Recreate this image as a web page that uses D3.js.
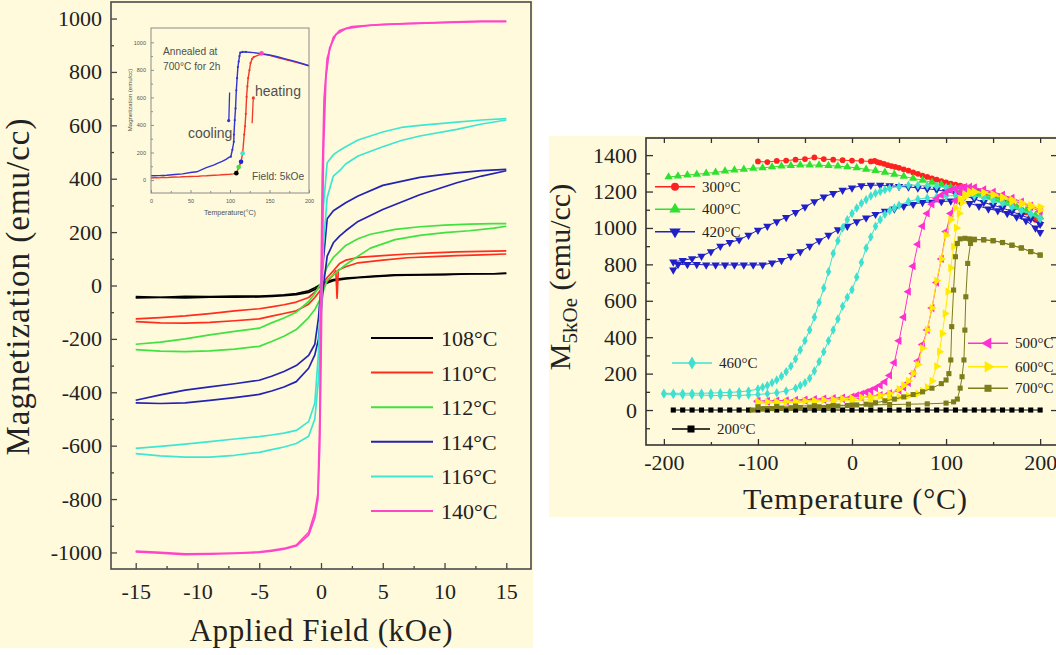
<!DOCTYPE html>
<html><head><meta charset="utf-8">
<script src="https://cdn.jsdelivr.net/npm/d3@7/dist/d3.min.js"></script>
<style>body{margin:0;background:#fff}svg{display:block}</style>
</head><body>
<svg id="c" width="1056" height="655"></svg>
<script>
// ---------------- DATA: left panel (hysteresis loops, field kOe -> emu/cc) ----------------
const hystLabels = ["108°C","110°C","112°C","114°C","116°C","140°C"];
const fieldTicks = [-15,-10,-5,0,5,10,15];
const fieldMinor = [-12.5,-7.5,-2.5,2.5,7.5,12.5];
const magTicks = [-1000,-800,-600,-400,-200,0,200,400,600,800,1000];
const magMinor = [-900,-700,-500,-300,-100,100,300,500,700,900];

const h108a = [[-15,-42],[-13,-44],[-11,-41],[-9,-42],[-7,-40],[-5,-40],[-4,-38],[-3,-35],[-2,-30],[-1,-20],[-0.5,-8],[0,5],[0.5,15],[1,22],[2,28],[3,31],[4,34],[6,40],[8,41],[10,42],[12,44],[14,44],[15,46]];
const h108b = [[-15,-46],[-13,-45],[-11,-46],[-9,-44],[-7,-44],[-5,-43],[-4,-41],[-3,-38],[-2,-34],[-1,-26],[-0.5,-15],[0,-3],[0.5,10],[1,18],[2,25],[3,29],[4,32],[6,38],[8,40],[10,41],[12,43],[14,44],[15,45]];
const h110a = [[-15,-125],[-13,-120],[-11,-114],[-9,-105],[-7,-95],[-5,-87],[-4,-80],[-3,-72],[-2,-62],[-1,-45],[-0.5,-25],[0,0],[0.5,30],[1,55],[1.5,82],[2,95],[3,105],[5,112],[7,118],[9,122],[11,126],[13,128],[15,130]];
const h110b = [[-15,-135],[-13,-140],[-11,-141],[-9,-138],[-7,-132],[-5,-125],[-4,-115],[-3,-105],[-2,-95],[-1,-70],[-0.5,-45],[0,-15],[0.5,15],[1,40],[1.2,55],[1.3,-48],[1.4,58],[2,70],[3,85],[5,95],[7,104],[9,108],[11,112],[13,115],[15,118]];
const h112a = [[-15,-220],[-13,-212],[-11,-200],[-9,-185],[-7,-172],[-5,-160],[-4,-140],[-3,-122],[-2,-100],[-1,-60],[-0.5,-30],[0,10],[0.5,70],[1,105],[2,150],[3,175],[4,192],[6,210],[8,220],[10,226],[12,230],[14,232],[15,232]];
const h112b = [[-15,-240],[-13,-246],[-11,-248],[-9,-245],[-7,-238],[-5,-228],[-4,-210],[-3,-190],[-2,-165],[-1,-120],[-0.5,-90],[0,-45],[0.5,20],[1,40],[2,78],[3,110],[4,140],[6,172],[8,188],[10,198],[12,205],[14,215],[15,222]];
const h114a = [[-15,-430],[-13,-410],[-11,-392],[-9,-380],[-7,-368],[-5,-355],[-4,-340],[-3,-322],[-2,-300],[-1,-262],[-0.5,-220],[-0.2,-120],[0,0],[0.3,150],[0.5,250],[1,280],[1.5,295],[2,310],[3,335],[5,375],[8,405],[11,422],[13,430],[15,435]];
const h114b = [[-15,-440],[-13,-442],[-11,-440],[-9,-430],[-7,-420],[-5,-408],[-4,-395],[-3,-380],[-2,-360],[-1,-310],[-0.5,-260],[-0.2,-200],[0,-100],[0.2,0],[0.5,110],[1,160],[1.5,185],[2,205],[3,240],[5,285],[8,340],[11,385],[13,410],[15,430]];
const h116a = [[-15,-610],[-13,-603],[-11,-594],[-9,-585],[-7,-575],[-5,-566],[-4,-560],[-3,-553],[-2,-543],[-1,-510],[-0.5,-440],[-0.2,-250],[0,0],[0.2,300],[0.5,460],[1,490],[1.5,506],[2,520],[3,545],[5,575],[6.5,592],[8,600],[11,612],[13,620],[15,625]];
const h116b = [[-15,-630],[-13,-638],[-11,-643],[-9,-643],[-7,-636],[-5,-625],[-4,-615],[-3,-605],[-2,-592],[-1,-565],[-0.5,-500],[-0.2,-350],[0,-150],[0.2,150],[0.5,330],[1,410],[1.5,430],[2,455],[3,485],[5,520],[6.5,543],[8,560],[11,585],[13,605],[15,620]];
const h140a = [[-15,-995],[-13,-1000],[-11,-1005],[-9,-1004],[-7,-1002],[-5,-998],[-4,-992],[-3,-985],[-2,-972],[-1,-925],[-0.5,-850],[-0.25,-780],[-0.1,-500],[0,0],[0.1,400],[0.25,700],[0.5,850],[1,930],[1.5,955],[2.5,970],[5,978],[8,983],[11,988],[13,990],[15,990]];
const h140b = [[-15,-998],[-13,-1003],[-11,-1008],[-9,-1006],[-7,-1004],[-5,-1000],[-4,-995],[-3,-988],[-2,-976],[-1,-935],[-0.5,-870],[-0.25,-800],[-0.1,-600],[0,-300],[0.1,100],[0.2,500],[0.4,780],[0.7,890],[1.2,940],[2,962],[4,975],[7,981],[10,985],[13,988],[15,988]];

// inset: field-cooled / heated M(T) at 5 kOe
const insetTTicks = [0,50,100,150,200];
const insetMTicks = [0,200,400,600,800,1000];
const insetHeat = [[0,15],[5,18],[10,16],[15,20],[20,18],[25,20],[30,22],[35,21],[40,24],[45,25],[50,26],[55,27],[60,28],[65,30],[70,31],[75,33],[80,35],[85,36],[90,38],[95,40],[100,42],[104,45],[108,50],[111,90],[114,133],[116,195],[118,330],[119,390],[120,480],[121,604],[122,680],[123,740],[124.6,797],[126,850],[128,880],[130,893],[135,905],[140,915],[150,905],[160,890],[170,875],[180,860],[190,845],[200,830]];
const insetCool = [[0,31],[10,32],[20,35],[30,40],[40,45],[50,55],[58,60],[70,90],[80,110],[84,121],[90,135],[95,150],[98.5,165],[101,170],[103,220],[104.8,278],[105,330],[106,435],[107,520],[108,652],[109,740],[110,821],[111,860],[112,900],[113,925],[116,930],[120,930],[130,925],[140,918],[150,908],[160,895],[170,880],[180,865],[190,848],[200,830]];
const insetDotsT = [108,111,114,116,140];
const insetDotsM = [50,94,133,195,920];

// ---------------- DATA: right panel (M at 5 kOe vs temperature) ----------------
const rTTicks = [-200,-100,0,100,200];
const rTMinor = [-200,-150,-100,-50,0,50,100,150,200];
const rMTicks = [0,200,400,600,800,1000,1200,1400];
const rMMinor = [-100,100,300,500,700,900,1100,1300];

const r200 = [[-190,0],[-180,0],[-170,0],[-160,0],[-150,0],[-140,0],[-130,0],[-120,0],[-110,0],[-100,0],[-90,0],[-80,0],[-70,0],[-60,0],[-50,0],[-40,0],[-30,0],[-20,0],[-10,0],[0,0],[10,0],[20,0],[30,0],[40,0],[50,0],[60,0],[70,0],[80,0],[90,0],[100,0],[110,0],[120,0],[130,0],[140,0],[150,0],[160,0],[170,0],[180,0],[190,0],[200,0]];
const r300 = [[-100,1365],[-90,1362],[-80,1368],[-70,1370],[-60,1375],[-50,1378],[-40,1387],[-30,1378],[-20,1375],[-10,1372],[0,1370],[10,1368],[20,1365],[24,1368],[27,1362],[30,1358],[34,1352],[38,1345],[42,1340],[46,1335],[50,1330],[55,1322],[60,1315],[65,1305],[70,1297],[75,1288],[80,1280],[85,1272],[90,1265],[95,1257],[100,1250],[105,1244],[110,1238],[115,1232],[120,1226],[125,1218],[130,1210],[135,1200],[140,1192],[145,1182],[150,1172],[155,1162],[160,1150],[165,1140],[170,1128],[175,1115],[180,1100],[185,1085],[190,1065],[195,1045],[200,1025]];
const r400 = [[-195,1280],[-185,1285],[-175,1290],[-165,1295],[-155,1300],[-145,1305],[-135,1312],[-125,1318],[-115,1322],[-105,1328],[-95,1330],[-85,1335],[-75,1340],[-65,1342],[-55,1345],[-45,1345],[-35,1345],[-25,1342],[-15,1340],[-5,1335],[5,1330],[15,1322],[25,1315],[35,1305],[45,1295],[55,1283],[65,1272],[75,1262],[85,1250],[95,1238],[105,1225],[115,1212],[125,1200],[135,1185],[145,1170],[155,1155],[165,1135],[175,1115],[185,1095],[195,1070],[200,1060]];
const r420a = [[-190,814],[-180,822],[-170,832],[-160,845],[-150,870],[-140,900],[-130,920],[-120,935],[-110,960],[-100,988],[-90,1010],[-80,1035],[-70,1058],[-60,1085],[-50,1115],[-40,1145],[-30,1170],[-20,1190],[-10,1208],[0,1220],[10,1232],[20,1235],[30,1235],[40,1232],[50,1228],[60,1225],[70,1220],[80,1215],[90,1210],[100,1200],[110,1190],[120,1175],[130,1160],[140,1140],[150,1125],[160,1110],[170,1090],[180,1070],[190,1050],[200,1020]];
const r420b = [[-190,770],[-185,800],[-175,800],[-165,800],[-155,797],[-145,797],[-135,797],[-125,797],[-115,797],[-105,797],[-95,797],[-85,808],[-75,822],[-65,845],[-55,870],[-45,900],[-35,930],[-25,960],[-15,990],[-5,1010],[5,1035],[15,1055],[25,1075],[35,1092],[45,1105],[55,1120],[65,1130],[75,1140],[85,1142],[95,1145],[105,1148],[115,1145],[125,1135],[135,1120],[145,1105],[155,1095],[165,1080],[175,1060],[185,1040],[195,1000],[200,975]];
const r460a = [[-200,92],[-190,92],[-180,92],[-170,92],[-160,92],[-150,93],[-140,95],[-130,97],[-120,100],[-110,105],[-100,115],[-95,125],[-90,135],[-85,150],[-80,165],[-75,185],[-70,210],[-65,240],[-60,280],[-55,330],[-50,380],[-45,440],[-40,510],[-35,590],[-30,670],[-25,760],[-20,860],[-15,930],[-10,1000],[-5,1045],[0,1080],[5,1110],[10,1135],[15,1155],[20,1175],[25,1190],[30,1200],[35,1210],[40,1218],[50,1228],[60,1235],[70,1235],[80,1232],[90,1228],[100,1222],[110,1215],[120,1208],[130,1195],[140,1180],[150,1165],[160,1145],[170,1125],[180,1100],[190,1080],[200,1055]];
const r460b = [[-200,88],[-190,85],[-180,83],[-170,82],[-160,82],[-150,80],[-140,80],[-130,80],[-120,80],[-110,82],[-100,85],[-90,90],[-80,95],[-70,105],[-60,120],[-55,135],[-50,150],[-45,175],[-40,215],[-35,265],[-30,320],[-25,380],[-20,440],[-15,500],[-10,570],[-5,620],[0,660],[5,730],[10,810],[15,890],[20,950],[25,1010],[30,1045],[35,1075],[40,1095],[45,1110],[50,1125],[60,1145],[70,1158],[80,1165],[90,1170],[100,1175],[110,1178],[120,1180],[130,1175],[140,1165],[150,1150],[160,1135],[170,1115],[180,1095],[190,1075],[200,1050]];
const r500a = [[-100,50],[-90,50],[-80,52],[-70,53],[-60,55],[-50,57],[-40,60],[-30,62],[-20,65],[-10,68],[0,73],[5,80],[10,88],[15,98],[20,108],[25,120],[30,135],[35,155],[40,190],[45,260],[50,380],[55,510],[60,650],[65,790],[70,910],[75,1010],[80,1080],[85,1130],[90,1160],[95,1180],[100,1195],[105,1208],[110,1215],[115,1222],[120,1225],[125,1226],[130,1222],[140,1210],[150,1195],[160,1180],[170,1160],[180,1140],[190,1115],[200,1090]];
const r500b = [[-100,45],[-90,45],[-80,47],[-70,48],[-60,50],[-50,52],[-40,54],[-30,56],[-20,58],[-10,60],[0,62],[10,68],[20,75],[30,82],[40,92],[50,108],[55,125],[60,150],[65,200],[70,270],[75,360],[80,440],[85,560],[90,700],[95,830],[100,980],[105,1080],[110,1150],[115,1195],[120,1218],[125,1222],[130,1220],[140,1210],[150,1198],[160,1182],[170,1165],[180,1145],[190,1122],[200,1100]];
const r600a = [[-100,45],[-90,45],[-80,46],[-70,47],[-60,48],[-50,50],[-40,52],[-30,55],[-20,58],[-10,62],[0,65],[10,70],[20,73],[30,80],[40,90],[50,115],[55,135],[60,160],[65,200],[70,250],[75,340],[80,440],[85,560],[90,710],[95,830],[100,960],[105,1045],[110,1110],[115,1160],[120,1185],[125,1200],[130,1200],[140,1195],[150,1180],[160,1165],[170,1145],[180,1130],[190,1115],[200,1098]];
const r600b = [[-100,38],[-80,40],[-60,42],[-40,45],[-20,48],[0,52],[20,58],[40,65],[50,70],[60,78],[70,90],[75,105],[80,125],[85,160],[90,240],[93,320],[96,420],[99,530],[102,650],[105,780],[108,897],[111,1000],[114,1080],[117,1140],[120,1170],[125,1190],[130,1195],[140,1192],[150,1185],[160,1170],[170,1155],[180,1140],[190,1125],[200,1116]];
const r700a = [[-106,0],[-95,5],[-85,8],[-75,10],[-65,12],[-55,14],[-45,16],[-35,18],[-25,20],[-15,22],[-5,25],[5,28],[15,32],[25,40],[35,50],[45,60],[55,72],[65,85],[75,100],[85,120],[95,145],[100,165],[103,200],[105,275],[106,458],[108,659],[110,842],[112,915],[115,940],[120,943],[125,940],[130,938],[140,935],[150,930],[160,920],[170,905],[180,890],[190,870],[200,851]];
const r700b = [[-100,18],[-80,20],[-60,22],[-40,24],[-20,25],[0,27],[20,28],[40,30],[60,32],[80,34],[100,38],[108,45],[112,60],[115,120],[117,183],[119,275],[120,439],[121,622],[123,805],[126,915],[130,935],[140,935],[150,930],[160,920],[170,905],[180,890],[190,870],[200,851]];
const rLabels = ["200°C","300°C","400°C","420°C","460°C","500°C","600°C","700°C"];

// ---------------- DRAWING ----------------
const svg = d3.select("#c");
const serif = "'Liberation Serif','Times New Roman',serif";
const sans = "'Liberation Sans',Arial,sans-serif";
const cream = "#fffadc";
const fmt = d => String(d);

svg.append("rect").attr("x",0).attr("y",0).attr("width",533).attr("height",648).attr("fill",cream);
svg.append("rect").attr("x",549).attr("y",136).attr("width",507).attr("height",381).attr("fill",cream);

// ===== left panel =====
const xL = d3.scaleLinear([-17,17],[111,531]);
const yL = d3.scaleLinear([-1062,1062],[569,2]);
const gL = svg.append("g");
gL.append("clipPath").attr("id","clipL").append("rect").attr("x",111).attr("y",2).attr("width",420).attr("height",567);

function styleAxis(g, size, color){
  g.select(".domain").remove();
  g.selectAll(".tick line").attr("stroke",color).attr("stroke-width",1.3);
  g.selectAll(".tick text").attr("font-family",serif).attr("font-size",size).attr("fill","#222");
}
let ax = gL.append("g").attr("transform","translate(0,569)")
  .call(d3.axisBottom(xL).tickValues(fieldTicks).tickSize(-6).tickPadding(14).tickFormat(fmt));
styleAxis(ax,22,"#444");
ax = gL.append("g").attr("transform","translate(0,569)")
  .call(d3.axisBottom(xL).tickValues(fieldMinor).tickSize(-3).tickFormat(""));
styleAxis(ax,22,"#444");
ax = gL.append("g").attr("transform","translate(111,0)")
  .call(d3.axisLeft(yL).tickValues(magTicks).tickSize(-6).tickPadding(9).tickFormat(fmt));
styleAxis(ax,22,"#444");
ax = gL.append("g").attr("transform","translate(111,0)")
  .call(d3.axisLeft(yL).tickValues(magMinor).tickSize(-3).tickFormat(""));
styleAxis(ax,22,"#444");

gL.append("text").attr("x",321).attr("y",641).attr("text-anchor","middle")
  .attr("font-family",serif).attr("font-size",31).attr("fill","#222")
  .attr("textLength",263).text("Applied Field (kOe)");
gL.append("text").attr("transform","translate(29,287) rotate(-90)").attr("text-anchor","middle")
  .attr("font-family",serif).attr("font-size",33).attr("fill","#222")
  .attr("textLength",337).text("Magnetization (emu/cc)");

const hystSeries = [
  {label:hystLabels[0], color:"#000000", branches:[h108a,h108b]},
  {label:hystLabels[1], color:"#ff2d1e", branches:[h110a,h110b]},
  {label:hystLabels[2], color:"#3fe23f", branches:[h112a,h112b]},
  {label:hystLabels[3], color:"#2323b0", branches:[h114a,h114b]},
  {label:hystLabels[4], color:"#3ee6d2", branches:[h116a,h116b]},
  {label:hystLabels[5], color:"#ff45c8", branches:[h140a,h140b]},
];
const lineL = d3.line().x(d=>xL(d[0])).y(d=>yL(d[1]));
const plotL = gL.append("g").attr("clip-path","url(#clipL)");
hystSeries.forEach(s=>{
  s.branches.forEach(b=>{
    plotL.append("path").attr("d",lineL(b)).attr("fill","none").attr("stroke",s.color).attr("stroke-width",1.7).attr("stroke-linejoin","round");
  });
});
// legend
hystSeries.forEach((s,i)=>{
  const y = 338 + i*34.6;
  gL.append("line").attr("x1",371).attr("x2",433).attr("y1",y).attr("y2",y).attr("stroke",s.color).attr("stroke-width",2);
  gL.append("text").attr("x",441).attr("y",y+8).attr("font-family",serif).attr("font-size",22).attr("fill","#222").text(s.label);
});
// frame
gL.append("rect").attr("x",111).attr("y",2).attr("width",420).attr("height",567).attr("fill","none").attr("stroke","#4a4a4a").attr("stroke-width",1.6);

// ===== inset =====
const xI = d3.scaleLinear([0,200],[151,309]);
const yI = d3.scaleLinear([-94,1104],[193,28]);
const gI = svg.append("g");
gI.append("rect").attr("x",151).attr("y",28).attr("width",158).attr("height",165).attr("fill",cream);
ax = gI.append("g").attr("transform","translate(0,193)")
  .call(d3.axisBottom(xI).tickValues(insetTTicks).tickSize(-3).tickPadding(6).tickFormat(fmt));
styleAxis(ax,5.5,"#777"); ax.selectAll(".tick text").attr("font-family",sans).attr("fill","#555");
ax = gI.append("g").attr("transform","translate(0,193)")
  .call(d3.axisBottom(xI).tickValues([25,75,125,175]).tickSize(-2).tickFormat(""));
styleAxis(ax,5,"#777");
ax = gI.append("g").attr("transform","translate(151,0)")
  .call(d3.axisLeft(yI).tickValues(insetMTicks).tickSize(-3).tickPadding(5).tickFormat(fmt));
styleAxis(ax,5.5,"#777"); ax.selectAll(".tick text").attr("font-family",sans).attr("fill","#555");
ax = gI.append("g").attr("transform","translate(151,0)")
  .call(d3.axisLeft(yI).tickValues([100,300,500,700,900]).tickSize(-2).tickFormat(""));
styleAxis(ax,5,"#777");
gI.selectAll(".tick line").attr("stroke-width",0.8);
const lineI = d3.line().x(d=>xI(d[0])).y(d=>yI(d[1]));
gI.append("path").attr("d",lineI(insetHeat)).attr("fill","none").attr("stroke","#f03a2a").attr("stroke-width",1.4);
gI.append("path").attr("d",lineI(insetCool)).attr("fill","none").attr("stroke","#3333d0").attr("stroke-width",1.4);
gI.selectAll("circle.hd").data(insetHeat.filter(d=>d[0]>=108&&d[0]<=130)).join("circle")
  .attr("cx",d=>xI(d[0])).attr("cy",d=>yI(d[1])).attr("r",1.1).attr("fill","#f03a2a");
gI.selectAll("circle.cd").data(insetCool.filter(d=>d[0]>=100&&d[0]<=120)).join("circle")
  .attr("cx",d=>xI(d[0])).attr("cy",d=>yI(d[1])).attr("r",1.1).attr("fill","#3333d0");
const dotColors = ["#000","#3fe23f","#2323d0","#3ee6d2","#ff45c8"];
insetDotsT.forEach((t,i)=>{
  gI.append("circle").attr("cx",xI(t)).attr("cy",yI(insetDotsM[i])).attr("r",2.3).attr("fill",dotColors[i]);
});
// arrows
gI.append("line").attr("x1",xI(99.5)).attr("y1",yI(635)).attr("x2",xI(98.5)).attr("y2",yI(428)).attr("stroke","#3333d0").attr("stroke-width",1.3);
gI.append("circle").attr("cx",xI(98.3)).attr("cy",yI(432)).attr("r",1.6).attr("fill","#3333d0");
gI.append("line").attr("x1",xI(128)).attr("y1",yI(412)).attr("x2",xI(129.5)).attr("y2",yI(600)).attr("stroke","#f03a2a").attr("stroke-width",1.3);
gI.append("circle").attr("cx",xI(129.6)).attr("cy",yI(596)).attr("r",1.6).attr("fill","#f03a2a");
const tI = (x,y,s,txt,anchor)=>gI.append("text").attr("x",x).attr("y",y).attr("font-family",sans).attr("font-size",s).attr("fill","#505050").attr("text-anchor",anchor||"start").text(txt);
tI(163,55,10.2,"Annealed at");
tI(163,69.5,10.2,"700°C for 2h");
tI(255,96,14,"heating");
tI(188,138,14,"cooling");
tI(252,180,10.2,"Field: 5kOe");
tI(230,215,7,"Temperature(°C)","middle");
gI.append("text").attr("transform","translate(132,100) rotate(-90)").attr("text-anchor","middle")
  .attr("font-family",sans).attr("font-size",6).attr("fill","#505050").text("Magnetization (emu/cc)");
gI.append("rect").attr("x",151).attr("y",28).attr("width",158).attr("height",165).attr("fill","none").attr("stroke","#8a8a8a").attr("stroke-width",1);

// ===== right panel =====
const xR = d3.scaleLinear([-219,219],[646,1058]);
const yR = d3.scaleLinear([-192,1494],[445,138]);
const gR = svg.append("g");
gR.append("clipPath").attr("id","clipR").append("rect").attr("x",646).attr("y",138).attr("width",412).attr("height",307);

ax = gR.append("g").attr("transform","translate(0,445)")
  .call(d3.axisBottom(xR).tickValues(rTTicks).tickSize(-6).tickPadding(9).tickFormat(fmt));
styleAxis(ax,22,"#333");
ax = gR.append("g").attr("transform","translate(0,445)")
  .call(d3.axisBottom(xR).tickValues(rTMinor.filter(v=>!rTTicks.includes(v))).tickSize(-3).tickFormat(""));
styleAxis(ax,22,"#333");
ax = gR.append("g").attr("transform","translate(0,138)")
  .call(d3.axisTop(xR).tickValues(rTMinor).tickSize(-5).tickFormat(""));
styleAxis(ax,22,"#333");
ax = gR.append("g").attr("transform","translate(646,0)")
  .call(d3.axisLeft(yR).tickValues(rMTicks).tickSize(-7).tickPadding(9).tickFormat(fmt));
styleAxis(ax,22,"#333");
ax = gR.append("g").attr("transform","translate(646,0)")
  .call(d3.axisLeft(yR).tickValues(rMMinor).tickSize(-4).tickFormat(""));
styleAxis(ax,22,"#333");
ax = gR.append("g").attr("transform","translate(1058,0)")
  .call(d3.axisRight(yR).tickValues(rMTicks).tickSize(-7).tickFormat(""));
styleAxis(ax,22,"#333");

gR.append("text").attr("x",855).attr("y",509).attr("text-anchor","middle")
  .attr("font-family",serif).attr("font-size",30).attr("fill","#222")
  .attr("textLength",224).text("Temperature (°C)");
const yt = gR.append("text").attr("transform","translate(570,277) rotate(-90)").attr("text-anchor","middle")
  .attr("font-family",serif).attr("font-size",30).attr("fill","#222");
yt.append("tspan").text("M");
yt.append("tspan").attr("font-size",21).attr("dy",7).text("5kOe");
yt.append("tspan").attr("dy",-7).text(" (emu/cc)");

const S = d3;
const rSeries = [
  {label:rLabels[0], color:"#000000", type:S.symbolSquare, size:26, rot:0, branches:[r200], lx:672, lx2:710, ly:429},
  {label:rLabels[1], color:"#ff2020", type:S.symbolCircle, size:26, rot:0, branches:[r300], lx:655, lx2:695, ly:186.7},
  {label:rLabels[2], color:"#2fe02f", type:S.symbolTriangle, size:30, rot:0, branches:[r400], lx:655, lx2:695, ly:209.3},
  {label:rLabels[3], color:"#2020c8", type:S.symbolTriangle, size:30, rot:180, branches:[r420a,r420b], lx:655, lx2:695, ly:231.7},
  {label:rLabels[4], color:"#3ee0d0", type:S.symbolDiamond, size:26, rot:0, branches:[r460a,r460b], lx:672, lx2:712, ly:363},
  {label:rLabels[5], color:"#ff30d2", type:S.symbolTriangle, size:30, rot:-90, branches:[r500a,r500b], lx:968, lx2:1008, ly:343.3},
  {label:rLabels[6], color:"#ffea00", type:S.symbolTriangle, size:30, rot:90, branches:[r600a,r600b], lx:968, lx2:1008, ly:366.7},
  {label:rLabels[7], color:"#7d7d1c", type:S.symbolSquare, size:26, rot:0, branches:[r700a,r700b], lx:968, lx2:1008, ly:388.3},
];
const lineR = d3.line().x(d=>xR(d[0])).y(d=>yR(d[1]));
const plotR = gR.append("g").attr("clip-path","url(#clipR)");
rSeries.forEach(s=>{
  const sym = d3.symbol().type(s.type).size(s.size);
  s.branches.forEach(b=>{
    plotR.append("path").attr("d",lineR(b)).attr("fill","none").attr("stroke",s.color).attr("stroke-width",1);
    plotR.append("g").selectAll("path").data(b).join("path").attr("d",sym)
      .attr("transform",d=>`translate(${xR(d[0])},${yR(d[1])}) rotate(${s.rot})`).attr("fill",s.color);
  });
  // legend
  gR.append("line").attr("x1",s.lx).attr("x2",s.lx2).attr("y1",s.ly).attr("y2",s.ly).attr("stroke",s.color).attr("stroke-width",1.6);
  gR.append("path").attr("d",d3.symbol().type(s.type).size(s.size*1.9)()).attr("transform",`translate(${(s.lx+s.lx2)/2},${s.ly}) rotate(${s.rot})`).attr("fill",s.color);
  gR.append("text").attr("x",s.lx2+7).attr("y",s.ly+5).attr("font-family",serif).attr("font-size",15).attr("fill","#222").text(s.label);
});
gR.append("rect").attr("x",646).attr("y",138).attr("width",412).attr("height",307).attr("fill","none").attr("stroke","#333").attr("stroke-width",1.6);
</script>
</body></html>
